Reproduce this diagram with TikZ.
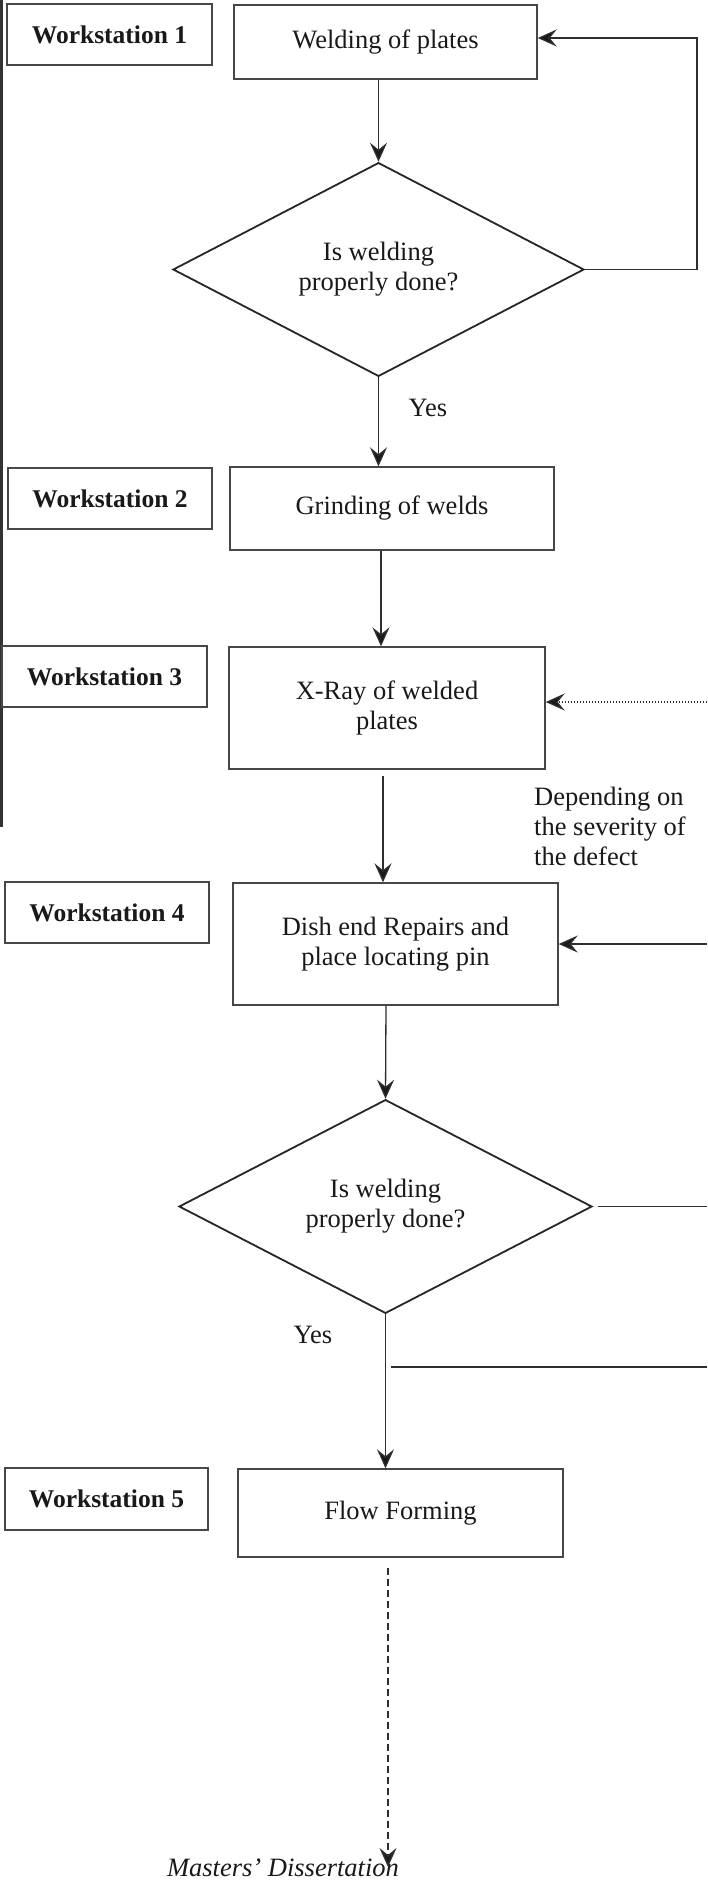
\documentclass[tikz,border=0pt]{standalone}
\usepackage{fontspec}
\setmainfont{Liberation Serif}
\usetikzlibrary{shapes.geometric,arrows.meta}
\begin{document}
\begin{tikzpicture}[x=1pt,y=-1pt,
  every node/.style={font=\fontsize{26.5}{30}\selectfont, text=black!90},
  box/.style={draw=black!72, line width=1.4pt, rectangle, inner sep=0pt, align=center},
  wsbox/.style={box, font=\fontsize{25.5}{30}\selectfont\bfseries},
  decision/.style={diamond, draw=black!85, line width=1.8pt, inner sep=0pt, align=center},
  conn/.style={draw=black!82, line width=1.3pt},
  arr/.style={conn, -{Stealth[length=19pt,width=17pt,inset=7pt,fill=black!90]}},
  lbl/.style={inner sep=0pt, align=left}
]
\useasboundingbox (0,0) rectangle (707,1887);
\fill[white] (0,0) rectangle (707,1887);

% page rule on the left
\coordinate (lb1) at (1.5,0);
\coordinate (lb2) at (1.5,827);
\draw[line width=3pt, black!80] (lb1) -- (lb2);

% workstation labels
\node[wsbox, minimum width=205pt, minimum height=61pt] (ws1) at (109.5,34.5) {Workstation 1};
\node[wsbox, minimum width=204pt, minimum height=61pt] (ws2) at (110,498.5) {Workstation 2};
\node[wsbox, minimum width=205pt, minimum height=61pt] (ws3) at (104.5,676.5) {Workstation 3};
\node[wsbox, minimum width=204pt, minimum height=61pt] (ws4) at (107,912.5) {Workstation 4};
\node[wsbox, minimum width=203pt, minimum height=62pt] (ws5) at (106.5,1499) {Workstation 5};

% process steps
\node[box, minimum width=303pt, minimum height=74pt] (weld) at (385.5,42) {Welding of plates};
\node[box, minimum width=324pt, minimum height=83pt] (grind) at (392,508.5) {Grinding of welds};
\node[box, minimum width=316pt, minimum height=122pt] (xray) at (387,708) {X-Ray of welded\\plates};
\node[box, minimum width=325pt, minimum height=122pt] (dish) at (395.5,944) {Dish end Repairs and\\place locating pin};
\node[box, minimum width=325pt, minimum height=88pt] (flow) at (400.5,1513) {Flow Forming};

% checks
\node[decision, minimum width=411pt, minimum height=207pt] (d1) at (378.5,269.5) {Is welding\\properly done?};
\node[decision, minimum width=413pt, minimum height=201pt] (d2) at (385.5,1206.5) {Is welding\\properly done?};

% labels
\node[lbl] (yes1) at (428,408) {Yes};
\node[lbl] (yes2) at (313,1335) {Yes};
\node[lbl, anchor=west] (dep) at (534,826) {Depending on\\the severity of\\the defect};
\node[lbl, anchor=base, font=\fontsize{26.5}{30}\selectfont\itshape] (ms) at (283,1876) {Masters' Dissertation};

% line positions
\coordinate (v2) at (381,0);
\coordinate (v3) at (383,0);
\coordinate (v4) at (386,0);
\coordinate (fb) at (697,38);
\coordinate (dt) at (707,702);
\coordinate (dr) at (707,944);
\coordinate (e2) at (707,1207);
\coordinate (j1) at (391,1367);
\coordinate (j2) at (707,1367);
\coordinate (md) at (388,1867);

% main flow
\draw[arr] (d1.north |- weld.south) -- (d1.north);
\draw[arr] (d1.south) -- (d1.south |- grind.north);
\draw[arr] (grind.south -| v2) -- (xray.north -| v2);
\draw[arr, shorten <=6pt] (xray.south -| v3) -- (dish.north -| v3);
\draw[arr] (dish.south -| v4) -- (d2.north);
\draw[arr] (d2.south) -- (d2.south |- flow.north);
\draw[arr, line width=1.6pt, dash pattern=on 7pt off 4pt, shorten <=10pt] (flow.south -| md) -- (md);

% loops back
\draw[arr] (d1.east) -- (d1.east -| fb) -- (fb) -- (fb -| weld.east);
\draw[arr, dash pattern=on 1.3pt off 1.7pt] (dt) -- (dt -| xray.east);
\draw[arr] (dr) -- (dr -| dish.east);
\draw[conn, shorten <=5pt] (d2.east) -- (d2.east -| e2);
\draw[conn] (j1) -- (j2);
\end{tikzpicture}
\end{document}
